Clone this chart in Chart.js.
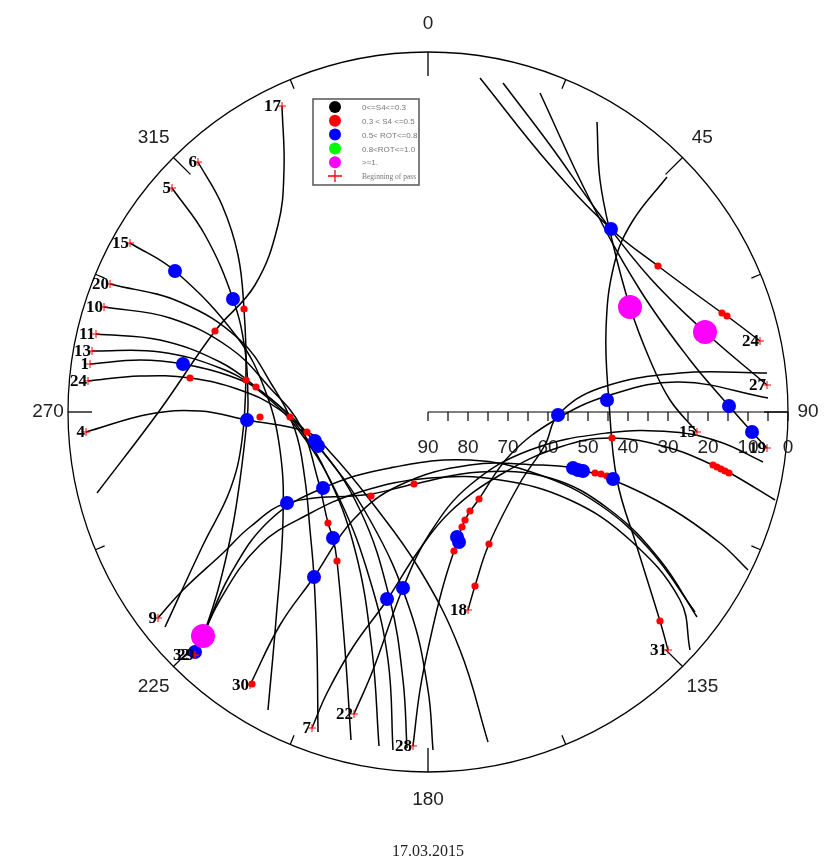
<!DOCTYPE html>
<html><head><meta charset="utf-8">
<script src="https://cdn.jsdelivr.net/npm/chart.js@4/dist/chart.umd.min.js"></script>
<style>html,body{margin:0;padding:0;background:#fff}canvas{display:block}</style>
</head><body>
<canvas id="c" width="835" height="863"></canvas>
<script>
// Sky-plot data: points are [east, north] offsets in degrees of zenith distance (90 - elevation)
const trk17 = [[-36.5,76.5],[-36,60.5],[-37.5,46.75],[-43.25,31.75],[-53.25,20.25],[-67,0.5],[-82.75,-20.25]];
const trk6  = [[-57.5,62.5],[-51.5,51.75],[-47.5,39.25],[-46,25.75],[-45.5,10.5],[-46.5,-7],[-49.5,-19.5],[-56.25,-33.25],[-65.75,-53.75]];
const trk5  = [[-64,56],[-55.75,44.25],[-48.75,28.25],[-45.75,15.5],[-45,3],[-45.25,-2],[-47,-17],[-49,-29.5],[-52.5,-44.5],[-56.25,-56],[-58.25,-60.75]];
const trk15w = [[-74.5,42.25],[-63.25,35.25],[-47.75,18.75],[-40.75,5.5],[-37,-9.5],[-36.25,-27],[-38,-52],[-40,-74.5]];
const trk20 = [[-79.5,32],[-62,27.5],[-47,18],[-39,6.75],[-33.25,-4.5],[-30.75,-17],[-29.5,-29.5],[-28.5,-41.25],[-27.75,-59.5],[-27.5,-80]];
const trk10 = [[-81,26.25],[-64.5,23.5],[-49.5,16],[-39.5,6],[-32,-3.25],[-27.5,-17],[-25,-27.75],[-23.75,-31.5],[-22.75,-37.25],[-20.75,-59.5],[-19.25,-82]];
const trk11 = [[-83,19.5],[-67,18],[-52,12.5],[-43,6.25],[-34.5,-1.25],[-25.75,-14.5],[-18.25,-34.5],[-14,-59.5],[-12.25,-83.5]];
const trk13 = [[-84,15.25],[-67,15],[-52,11],[-42.5,5.5],[-32,-5],[-22,-22],[-14.5,-42],[-10,-62],[-8.75,-84.5]];
const trk1  = [[-84.5,12],[-72,13],[-61.25,12],[-49.5,9],[-41.5,5],[-28.25,-7.5],[-17,-24.5],[-9.5,-47],[-6.25,-67],[-5.25,-84]];
const trk24w = [[-85,7.75],[-72,9],[-59.5,8.5],[-47,5.5],[-37,0.5],[-27.75,-8.25],[-14.5,-27],[-4.5,-49.5],[0,-69.5],[1.25,-84.5]];
const trk4  = [[-85.5,-5],[-69.5,-0.5],[-57,0.25],[-45.25,-2],[-30.25,-5],[-24.5,-10],[-14.5,-22],[-2,-39.5],[8,-59.5],[15,-82.5]];
const trk24e = [[83,17.75],[74.75,24],[73.5,24.75],[57.5,36.5],[45.75,45.75],[30.5,61.75],[13,83.5]];
const trk27 = [[84.75,6.75],[69.25,20],[55.5,33.5],[43,49.25],[30.5,66.75],[18.75,82.25]];
const trk19 = [[84.75,-9],[81,-5],[75.25,1.5],[65.5,13],[53,30.5],[40.5,53],[28,79.75]];
const trk15e = [[67.25,-5],[60.5,3],[55.5,13],[50.5,26.25],[46,43],[43,58],[42.25,72.5]];
const trk31 = [[60,-59.5],[58,-52.25],[52.25,-33.75],[47.25,-17],[45.25,2.5],[44.5,20.5],[46.5,36.75],[51,47.5],[59.75,58.75]];
const trk28 = [[-3.75,-83.5],[-2,-69.5],[0.5,-57],[3.5,-44.5],[6.5,-34.75],[9.25,-27],[12.75,-21.75],[20.5,-10.75],[31.75,-2],[45.5,4.25],[63,7.5],[85,3.5]];
const trk18 = [[10,-49.5],[11.75,-43.5],[15.25,-33],[23,-17.75],[29.25,-8.25],[32.5,-0.75],[43,6],[63,9.75],[84.75,9.75]];
const trk22 = [[-18.5,-75.5],[-13.75,-64.5],[-6.25,-44],[0.5,-30.25],[10.5,-18.25],[25.5,-9.5],[44.75,-5.25],[61.25,-5],[73,-7.5],[83.75,-12.5]];
const trk7  = [[-29,-79],[-25.25,-70.25],[-18.75,-58.75],[-10.25,-47],[-2.75,-35.25],[5.5,-25],[18,-15.75],[33,-8.75],[46,-6.5],[60.5,-9],[71.25,-13.25],[75.5,-15.25],[86.75,-22]];
const trk30 = [[-44.5,-68.25],[-37,-53.25],[-28.5,-41.25],[-18.75,-27],[-7,-18.25],[10.5,-13.25],[28,-13.25],[36,-14],[46.25,-17],[60.5,-24],[73,-32.75],[80,-39.5]];
const trk9  = [[-67.5,-51.5],[-61.25,-44.5],[-51.25,-35.25],[-44.5,-28.75],[-35.25,-22.75],[-14.25,-20.5],[-3.5,-18],[13,-15],[30.5,-16.5],[45.5,-24.5],[58,-37],[67.25,-51.25]];
const trk32 = [[-58.25,-60.75],[-56.25,-56],[-49.5,-40.75],[-39.5,-27],[-26.25,-19],[-9.5,-14],[10.5,-12],[28,-15.75],[43,-23.25],[55.5,-34.5],[66.75,-50]];
const trk29 = [[-58.25,-60.75],[-52,-47],[-42,-33.25],[-30.25,-25.75],[-17,-20],[0.5,-16.5],[18,-17],[35.5,-22],[50.5,-32],[63,-47],[65.5,-59.5]];

const passLabels = ['17','6','5','15','20','10','11','13','1','24','4','24','27','19','15','31','28','18','22','7','30','9','32','29'];
const passTracks = [trk17,trk6,trk5,trk15w,trk20,trk10,trk11,trk13,trk1,trk24w,trk4,trk24e,trk27,trk19,trk15e,trk31,trk28,trk18,trk22,trk7,trk30,trk9,trk32,trk29];

// scintillation / ROT markers
const s4Low = [];
const s4Mid = [[-53.25,20.25],[-46,25.75],[-59.5,8.5],[-45.5,8],[-43,6.25],[-42,-1.25],[-34.5,-1.25],[-30.25,-5],[-25,-27.75],[-22.75,-37.25],[-14.25,-21],[-3.5,-18],[6.5,-34.75],[8.5,-28.75],[9.25,-27],[10.5,-24.75],[12.75,-21.75],[11.75,-43.5],[15.25,-33],[41.75,-15.25],[43.25,-15.5],[44.75,-16],[46,-6.5],[57.5,36.5],[73.5,24.75],[74.75,24],[71.25,-13.25],[72.25,-13.75],[73.25,-14.25],[74.25,-14.75],[75.25,-15.25],[58,-52.25],[-44,-68]];
const rotMid = [[-63.25,35.25],[-48.75,28.25],[-61.25,12],[-45.25,-2],[-28.25,-7.25],[-27.5,-8.5],[-26.25,-19],[-35.25,-22.75],[-23.75,-31.5],[-28.5,-41.25],[-10.25,-46.75],[-6.25,-44],[7.25,-31.25],[7.75,-32.5],[32.5,-0.75],[44.75,3],[45.75,45.75],[75.25,1.5],[81,-5],[36.25,-14],[37.5,-14.5],[38.75,-14.75],[46.25,-16.75],[-58.25,-60]];
const rotHigh = [];
const rotExtreme = [[50.5,26.25],[69.25,20],[-56.25,-56]];

const azTicks = [0,22.5,45,67.5,90,112.5,135,157.5,180,202.5,225,247.5,270,292.5,315,337.5];
const azLabels = [0,45,90,135,180,225,270,315];
const elevTicks = [90,85,80,75,70,65,60,55,50,45,40,35,30,25,20,15,10,5,0];
const elevLabels = [90,80,70,60,50,40,30,20,10,0];
const legendItems = ['0<=S4<=0.3','0.3 < S4 <=0.5','0.5< ROT<=0.8','0.8<ROT<=1.0','>=1.','Beginning of pass'];
const legendColors = ['#000000','#ff0000','#0000ff','#00ff00','#ff00ff','#ff0000'];
const dateLabel = '17.03.2015';

const toXY = a => a.map(p => ({x:p[0], y:p[1]}));

const datasets = [];
datasets.push({data:toXY(passTracks.map(t=>t[0])), pointStyle:'cross', pointRadius:4, borderColor:'#ff0000', borderWidth:1, showLine:false, order:0});
datasets.push({data:toXY(rotExtreme), pointRadius:12, backgroundColor:'#ff00ff', borderWidth:0, showLine:false, order:1});
datasets.push({data:toXY(rotHigh), pointRadius:7, backgroundColor:'#00ff00', borderWidth:0, showLine:false, order:2});
datasets.push({data:toXY(rotMid), pointRadius:7, backgroundColor:'#0000ff', borderWidth:0, showLine:false, order:3});
datasets.push({data:toXY(s4Mid), pointRadius:3.6, backgroundColor:'#ff0000', borderWidth:0, showLine:false, order:4});
datasets.push({data:toXY(s4Low), pointRadius:3.6, backgroundColor:'#000000', borderWidth:0, showLine:false, order:5});
passTracks.forEach(t => datasets.push({data:toXY(t), showLine:true, pointRadius:0, borderColor:'#000', borderWidth:1.5, tension:0.4, fill:false, order:10}));

const D2R = Math.PI/180;
const decor = {
  id:'decor',
  beforeDatasetsDraw(chart){
    const {ctx, scales:{x,y}} = chart;
    const cx = x.getPixelForValue(0), cy = y.getPixelForValue(0);
    const R = x.getPixelForValue(90) - cx;
    ctx.save();
    ctx.strokeStyle = '#000'; ctx.lineWidth = 1.3;
    ctx.beginPath(); ctx.arc(cx, cy, R, 0, 2*Math.PI); ctx.stroke();
    ctx.lineWidth = 1.3;
    azTicks.forEach(a => {
      const L = a % 45 === 0 ? 24 : 10;
      const s = Math.sin(a*D2R), c = Math.cos(a*D2R);
      ctx.beginPath(); ctx.moveTo(cx+R*s, cy-R*c); ctx.lineTo(cx+(R-L)*s, cy-(R-L)*c); ctx.stroke();
    });
    ctx.fillStyle = '#222'; ctx.font = '19px "Liberation Sans", Arial, sans-serif';
    ctx.textAlign = 'center'; ctx.textBaseline = 'middle';
    azLabels.forEach(a => {
      const r = (a === 90 || a === 270) ? R + 20 : R + 28;
      ctx.fillText(String(a), cx + r*Math.sin(a*D2R), cy - r*Math.cos(a*D2R));
    });
    // elevation axis
    ctx.lineWidth = 1.2;
    ctx.beginPath(); ctx.moveTo(cx, cy); ctx.lineTo(x.getPixelForValue(90), cy); ctx.stroke();
    elevTicks.forEach(e => {
      const px = x.getPixelForValue(90 - e);
      ctx.beginPath(); ctx.moveTo(px, cy); ctx.lineTo(px, cy + 9); ctx.stroke();
    });
    elevLabels.forEach(e => ctx.fillText(String(e), x.getPixelForValue(90 - e), cy + 36));
    ctx.restore();
  },
  afterDatasetsDraw(chart){
    const {ctx, scales:{x,y}} = chart;
    ctx.save();
    ctx.fillStyle = '#000'; ctx.font = 'bold 17px "Liberation Serif", "Times New Roman", serif';
    ctx.textAlign = 'right'; ctx.textBaseline = 'middle';
    passTracks.forEach((t, i) => {
      const shift = passLabels[i] === '32' ? -4 : 0;
      ctx.fillText(passLabels[i], x.getPixelForValue(t[0][0]) - 1 + shift, y.getPixelForValue(t[0][1]) + 1);
    });
    // legend
    ctx.strokeStyle = '#555'; ctx.lineWidth = 1.5;
    ctx.strokeRect(313, 99, 106, 86);
    legendItems.forEach((txt, i) => {
      const ly = 107 + i*13.8;
      if (i < 5) {
        ctx.fillStyle = legendColors[i];
        ctx.beginPath(); ctx.arc(335, ly, 6, 0, 2*Math.PI); ctx.fill();
      } else {
        ctx.strokeStyle = legendColors[i]; ctx.lineWidth = 1.3;
        ctx.beginPath(); ctx.moveTo(328, ly); ctx.lineTo(342, ly); ctx.moveTo(335, ly-6); ctx.lineTo(335, ly+6); ctx.stroke();
      }
      ctx.fillStyle = '#777'; ctx.textAlign = 'left';
      ctx.font = i < 5 ? '8px "Liberation Sans", Arial, sans-serif' : '7.5px "Liberation Serif", serif';
      ctx.fillText(txt, 362, ly + 1);
    });
    ctx.fillStyle = '#222'; ctx.textAlign = 'center';
    ctx.font = '16px "Liberation Serif", "Times New Roman", serif';
    ctx.fillText(dateLabel, x.getPixelForValue(0), 852);
    ctx.restore();
  }
};

new Chart(document.getElementById('c'), {
  type:'scatter',
  data:{datasets},
  options:{
    responsive:false, animation:false, events:[],
    layout:{padding:{left:68, right:47, top:52, bottom:91}},
    scales:{
      x:{type:'linear', min:-90, max:90, display:false},
      y:{type:'linear', min:-90, max:90, display:false}
    },
    plugins:{legend:{display:false}, tooltip:{enabled:false}}
  },
  plugins:[decor]
});
</script></body></html>
